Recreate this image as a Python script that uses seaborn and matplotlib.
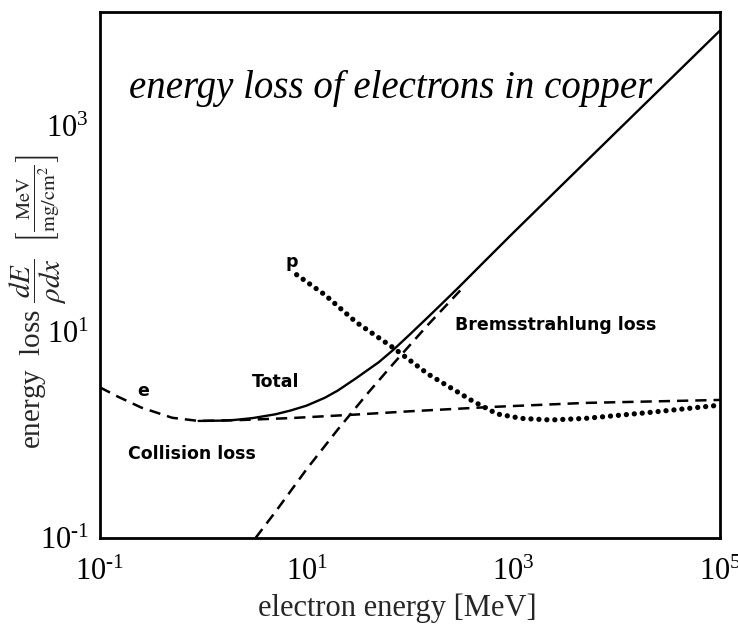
'''
Energy loss of electrons (and protons) in copper, log-log chart.
'''
import numpy as np
import pandas as pd
import matplotlib
matplotlib.use('Agg')
import matplotlib.pyplot as plt
import matplotlib.ticker as mticker
import seaborn as sns

# Collision loss of electrons (dashed).
collX = [0.1, 0.15, 0.25, 0.5, 0.9, 2, 7, 30, 100, 600, 5000, 1e5]
collY = [2.9, 2.35, 1.85, 1.47, 1.37, 1.39, 1.46, 1.58, 1.70, 1.87, 2.05, 2.19]

# Bremsstrahlung loss (dashed), merges into the total above ~300 MeV.
bremX = [3.2, 5, 10, 20, 40, 70, 150, 320]
bremY = [0.10, 0.18, 0.466, 1.13, 2.62, 5.0, 11.8, 26.5]

# Total loss (solid).
totX = [0.9, 1.5, 2, 3, 5, 7, 10, 15, 20, 30, 50, 70, 100, 150, 200, 300, 500,
        1e3, 3e3, 1e4, 3e4, 1e5]
totY = [1.37, 1.38, 1.40, 1.46, 1.59, 1.73, 1.93, 2.3, 2.7, 3.55, 5.1, 6.8, 9.5,
        14.0, 18.5, 27.5, 46, 92, 271, 883, 2590, 8430]

# Protons (dotted).
protX = [8, 15, 30, 68, 150, 400, 700, 1200, 2300, 5000, 2e4, 1e5]
protY = [36, 23, 12.5, 7.1, 3.9, 2.15, 1.6, 1.45, 1.40, 1.45, 1.65, 1.95]

xTicks = [1e-1, 1e1, 1e3, 1e5]
yTicks = [1e-1, 1e1, 1e3]

def _powLabel(v, pos):
  '''
  Tick label as 10 to a power, with a short hyphen for negatives.
  '''
  e = int(round(np.log10(v)))
  s = str(e).replace('-', '\u2010')
  return r'$\mathdefault{10^{%s}}$' % s

# Style.
sns.set_style('white')
plt.rcParams['font.family'] = ['Liberation Serif', 'DejaVu Serif']
plt.rcParams['mathtext.fontset'] = 'stix'
plt.rcParams['axes.unicode_minus'] = False

fig = plt.figure(figsize=(7.38, 6.24), dpi=100)
ax = fig.add_axes([0.1355, 0.1378, 0.84, 0.843])

ink = 'black'
dashed = (0, (4.5, 2.8))

# Curves.
sns.lineplot(x=collX, y=collY, ax=ax, color=ink, linewidth=1.8, linestyle=dashed, sort=False)
sns.lineplot(x=bremX, y=bremY, ax=ax, color=ink, linewidth=1.8, linestyle=dashed, sort=False)
sns.lineplot(x=totX, y=totY, ax=ax, color=ink, linewidth=1.7, sort=False)
sns.lineplot(x=protX, y=protY, ax=ax, color=ink, linewidth=3.8,
             linestyle=(0, (0.01, 1.5)), dash_capstyle='round', sort=False)

# Axes setup.
ax.set_xscale('log')
ax.set_yscale('log')
ax.set_xlim(1e-1, 1e5)
ax.set_ylim(1e-1, 1.28e4)
ax.set_xticks(xTicks)
ax.set_yticks(yTicks)
ax.xaxis.set_major_formatter(mticker.FuncFormatter(_powLabel))
ax.yaxis.set_major_formatter(mticker.FuncFormatter(_powLabel))
ax.minorticks_off()
ax.tick_params(axis='both', which='major', direction='in', length=4, width=1,
               labelsize=22, colors=ink)
ax.tick_params(axis='x', pad=14)
ax.tick_params(axis='y', pad=8)
for s in ax.spines.values():
  s.set_linewidth(2)
  s.set_color(ink)

ax.set_xlabel('electron energy [MeV]', fontsize=22)
ax.xaxis.set_label_coords(0.48, -0.105)
ax.set_ylabel(r'energy  loss $\dfrac{dE}{\rho dx}$  $\left[\frac{\mathrm{MeV}}{\mathrm{mg/cm^2}}\right]$',
              fontsize=21)
ax.yaxis.set_label_coords(-0.05, 0.45)

# Inline labels.
sans = dict(family='DejaVu Sans', fontweight='bold', fontsize=12.5, color=ink)
ax.text(270, 11.7, 'Bremsstrahlung loss', ha='left', va='center', **sans)
ax.text(2.95, 3.25, 'Total', ha='left', va='center', **sans)
ax.text(0.23, 2.7, 'e', ha='left', va='center', **sans)
ax.text(0.186, 0.65, 'Collision loss', ha='left', va='center', **sans)
ax.text(6.2, 48, 'p', ha='left', va='center', **sans)

ax.text(0.047, 0.854, 'energy loss of electrons in copper', transform=ax.transAxes,
        fontsize=28, fontstyle='italic', ha='left', va='center', color=ink)

fig.savefig('out.png', dpi=100)
